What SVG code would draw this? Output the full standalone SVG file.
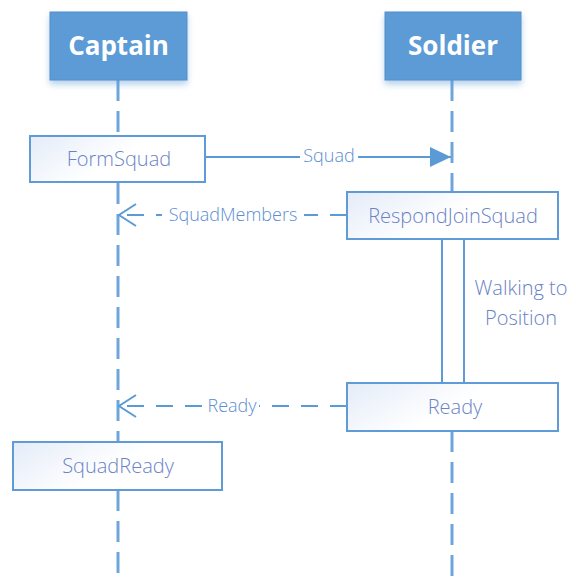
<svg xmlns="http://www.w3.org/2000/svg" width="576" height="578" viewBox="0 0 576 578">
  <style>
    .head rect { fill: #5b9bd5; stroke: #5590cc; stroke-width: 1; filter: url(#glow); }
    .head text { font-family: "Open Sans", "Liberation Sans", sans-serif; font-weight: 700; font-size: 26px; fill: #ffffff; text-anchor: middle; }
    .life { stroke: #6ea6dc; stroke-width: 3; stroke-dasharray: 21 10; fill: none; }
    .box rect { fill: url(#boxfill); stroke: #5f9bd6; stroke-width: 2; }
    .box text, .note { font-family: "Open Sans", "Liberation Sans", sans-serif; font-weight: 300; font-size: 20px; fill: #6a82c6; text-anchor: middle; }
    .msg { stroke: #5b9bd5; stroke-width: 2; fill: none; }
    .dash { stroke-dasharray: 17 12; }
    .lbl { font-family: "Open Sans", "Liberation Sans", sans-serif; font-weight: 300; font-size: 18px; fill: #5b8ed2; text-anchor: middle; }
    .bar { fill: #ffffff; stroke: #5f9bd6; stroke-width: 2; }
  </style>
  <defs>
    <linearGradient id="boxfill" x1="0" y1="0" x2="1" y2="0.4">
      <stop offset="0" stop-color="#e4ecf8"/>
      <stop offset="0.6" stop-color="#ffffff"/>
    </linearGradient>
    <filter id="glow" x="-10%" y="-10%" width="120%" height="140%">
      <feDropShadow dx="0" dy="4" stdDeviation="3" flood-color="#5b9bd5" flood-opacity="0.45"/>
    </filter>
    <marker id="solidhead" markerWidth="22" markerHeight="22" refX="21" refY="10" orient="auto" markerUnits="userSpaceOnUse">
      <path d="M0,0 L21,10 L0,20 Z" fill="#5b9bd5"/>
    </marker>
    <marker id="openhead" markerWidth="22" markerHeight="26" refX="19" refY="12" orient="auto" markerUnits="userSpaceOnUse">
      <path d="M2,1 L19,12 L2,23" fill="none" stroke="#5b9bd5" stroke-width="2"/>
    </marker>
  </defs>

  <!-- lifelines -->
  <g id="lifelines">
    <line class="life" x1="118" y1="80" x2="118" y2="136"/>
    <line class="life" x1="118" y1="183" x2="118" y2="442"/>
    <line class="life" x1="118" y1="490" x2="118" y2="578"/>
    <line class="life" x1="452" y1="80" x2="452" y2="192"/>
    <line class="life" x1="452" y1="431" x2="452" y2="578"/>
  </g>

  <!-- participants -->
  <g id="captain" class="head">
    <rect x="50" y="12" width="137" height="68"/>
    <text x="118.5" y="55">Captain</text>
  </g>
  <g id="soldier" class="head">
    <rect x="385" y="12" width="136" height="68"/>
    <text x="453" y="55">Soldier</text>
  </g>

  <!-- activation while walking -->
  <g id="walking">
    <rect class="bar" x="442" y="239" width="22" height="144"/>
    <text class="note" x="521" y="295">Walking to</text>
    <text class="note" x="521" y="325">Position</text>
  </g>

  <!-- messages -->
  <g id="connectors">
    <line class="msg" x1="206" y1="157" x2="451" y2="157" marker-end="url(#solidhead)"/>
    <rect x="300" y="146" width="58" height="20" fill="#ffffff"/>
    <text class="lbl" x="329" y="162">Squad</text>

    <line class="msg dash" x1="347" y1="215" x2="119" y2="215" marker-end="url(#openhead)"/>
    <rect x="162" y="204" width="142" height="22" fill="#ffffff"/>
    <text class="lbl" x="233" y="221">SquadMembers</text>

    <line class="msg dash" x1="347" y1="406" x2="119" y2="406" marker-end="url(#openhead)"/>
    <rect x="205" y="395" width="54" height="22" fill="#ffffff"/>
    <text class="lbl" x="232" y="412">Ready</text>
  </g>

  <!-- actions -->
  <g id="formsquad" class="box">
    <rect x="30" y="136" width="175" height="46"/>
    <text x="119" y="166">FormSquad</text>
  </g>
  <g id="respondjoinsquad" class="box">
    <rect x="347" y="192" width="211" height="47"/>
    <text x="453" y="223">RespondJoinSquad</text>
  </g>
  <g id="ready" class="box">
    <rect x="347" y="383" width="211" height="48"/>
    <text x="455" y="414">Ready</text>
  </g>
  <g id="squadready" class="box">
    <rect x="13" y="442" width="209" height="48"/>
    <text x="118" y="473">SquadReady</text>
  </g>
</svg>
